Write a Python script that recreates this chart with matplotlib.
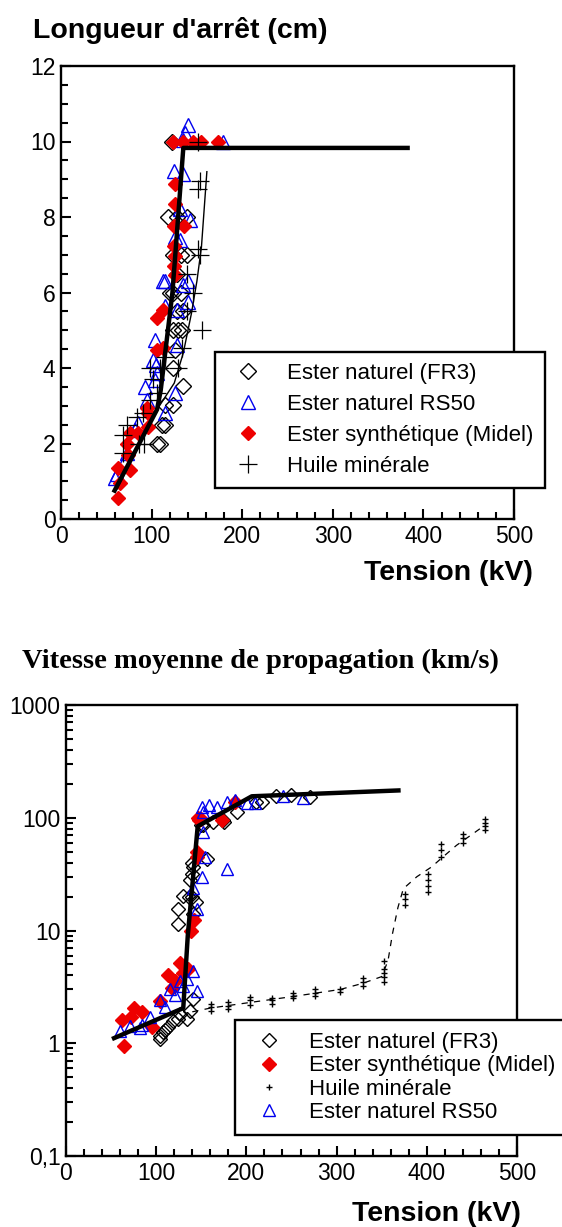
import matplotlib
matplotlib.use("Agg")
import matplotlib.pyplot as plt
from matplotlib.ticker import FixedLocator, MultipleLocator, FixedFormatter, NullFormatter
import numpy as np

plt.rcParams['font.family'] = ['Liberation Sans', 'DejaVu Sans']

# ---------- Longueur d'arret (cm) vs tension ----------
fr3_top_x = [122, 118.5, 127.7, 138.7, 124, 133, 138.7, 127.7, 120, 124, 133, 127.7, 135,
             124, 129.5, 133.2, 125.8, 124, 135, 114.8, 124, 111, 114.8, 105.6, 109.3]
fr3_top_y = [10, 8, 8, 8, 7, 7, 7, 6.5, 6, 6, 6, 5.5, 5.5,
             5, 5, 5, 4.48, 4, 3.51, 3.02, 3.02, 2.5, 2.5, 2, 2]

rs50_top_x = [140.5, 137, 135, 179, 124.7, 135, 131.3, 142.4, 125.8, 131.3, 114.8, 135, 113,
              140.5, 114.8, 127.7, 140.5, 103.8, 127.7, 101.9, 104.6, 106, 104, 92.7, 125.8,
              94.6, 114.8, 85.3, 81.7, 72.5, 70.6, 59.6, 61.4]
rs50_top_y = [10.45, 10.23, 10.05, 10.0, 9.21, 9.15, 8.2, 7.93, 7.47, 7.4, 6.3, 6.2, 6.3,
              6.3, 5.63, 5.54, 5.76, 4.75, 4.6, 4.2, 4.08, 3.86, 3.69, 3.5, 3.33,
              3.16, 2.8, 2.54, 2.36, 1.74, 1.56, 1.08, 1.2]

midel_top_x = [124, 135, 146, 155, 173.6, 125.8, 125.8, 124.7, 135.8, 124.7, 125.8, 124.7, 125.8,
               105.6, 113, 105.6, 113, 94.6, 96.4, 96.4, 85.3, 76.2, 72.5, 73.6, 63.3, 76.2,
               65.1, 63.3]
midel_top_y = [10, 10, 10, 10, 10, 8.88, 8.35, 7.77, 7.77, 7.22, 6.96, 6.7, 6.47,
               5.32, 5.54, 4.48, 4.53, 2.94, 2.8, 2.45, 2.27, 2.27, 2.0, 1.7, 1.34, 1.3,
               0.95, 0.55]

huile_top_x = [151.5, 153.4, 151.5, 151.5, 153, 138.7, 146, 138.7, 155.3, 133.2, 98.2, 109.3,
               129.5, 114.8, 101.9, 105.6, 98.2, 90.8, 83.6, 72.5, 68.8, 86.6, 92.1, 68.8]
huile_top_y = [10, 8.95, 8.75, 7.14, 7.0, 6.5, 6.0, 5.5, 5.0, 4.53, 4.0, 4.0,
               4.0, 4.3, 3.7, 3.33, 3.16, 2.8, 2.71, 2.5, 2.23, 2.0, 2.0, 1.75]

fit_top_x = [58, 106, 110, 113, 118, 123, 135, 385]
fit_top_y = [0.7, 2.9, 3.4, 4.0, 5.0, 6.0, 9.83, 9.83]

fit_huile_top_x = [62, 106, 125, 135, 144, 150, 155, 161]
fit_huile_top_y = [0.8, 2.9, 3.6, 4.4, 5.45, 6.3, 7.2, 9.2]

# ---------- Vitesse moyenne (km/s) vs tension ----------
fr3_bot_x = [124.7, 124.7, 130.2, 137.7, 139.5, 141.3, 156, 139.5, 136, 140, 141, 144, 152.4,
             163.5, 174.5, 189.4, 217, 233, 249, 270.5, 150, 175.6, 211, 104.4, 108, 113.6,
             119, 124.7, 134, 137.6, 141.3, 104.4, 110, 126.4]
fr3_bot_y = [15.6, 11.5, 20.4, 27.8, 31.8, 36.5, 43.4, 40, 20, 20, 14, 18, 86,
             91, 95, 113, 138, 157, 160, 154, 86, 91, 138, 1.09, 1.25, 1.38,
             1.58, 1.64, 1.64, 1.94, 2.47, 1.15, 1.3, 1.83]

midel_bot_x = [63.8, 62, 74.9, 84.1, 95.2, 104.4, 113.6, 126.6, 121, 135.5, 72, 145, 145, 142,
               139, 147, 150, 173, 187.5, 146, 118, 130]
midel_bot_y = [0.95, 1.6, 2.06, 1.88, 1.38, 2.39, 4.0, 5.2, 3.6, 4.6, 1.7, 50, 45, 12.5,
               10, 95, 98, 96, 138, 100, 3.1, 4.2]

rs50_bot_x = [150.6, 158, 167.2, 178.3, 187.5, 152.4, 200.4, 209.6, 152.4, 154, 150.6, 145,
              178.3, 141, 241, 263, 60.1, 71.2, 82.3, 93.4, 104.4, 115.5, 126.6, 134, 141.3,
              145, 110, 121, 130, 84]
rs50_bot_y = [125, 129, 125, 138, 145, 112, 134, 134, 75, 45, 30, 15.6,
              35.3, 24, 155, 150, 1.29, 1.43, 1.36, 1.7, 2.4, 3.0, 3.6, 3.7, 4.4,
              2.9, 2.1, 2.7, 3.2, 1.45]

huile_bot_x = [161, 161, 161, 180, 180, 180, 204, 204, 204, 228, 228, 228, 252, 252, 252,
               276, 276, 276, 304, 304, 329, 329, 329, 352, 352, 352, 352, 352, 376, 376, 376,
               401, 401, 401, 401, 416, 416, 416, 440, 440, 440, 465, 465, 465, 465]
huile_bot_y = [1.95, 2.08, 2.25, 2.0, 2.15, 2.3, 2.2, 2.4, 2.55, 2.25, 2.4, 2.5, 2.5, 2.65, 2.8,
               2.6, 2.8, 3.0, 2.85, 3.0, 3.2, 3.5, 3.8, 3.5, 3.9, 4.2, 4.6, 5.4, 17, 19, 21,
               22, 25, 28, 32, 45, 52, 58, 60, 66, 72, 78, 85, 90, 97]

fit_bot_x = [51, 130, 135, 146, 206, 371]
fit_bot_y = [1.09, 2.05, 9, 84, 155, 175]

fit_huile_bot_x = [140, 160, 204, 252, 304, 329, 350, 357, 362, 368, 374, 389, 405, 418, 433, 451, 459]
fit_huile_bot_y = [1.9, 2.05, 2.3, 2.6, 3.0, 3.4, 3.9, 5.4, 9.4, 16, 23.5, 30, 36.5, 45, 57, 72, 80]

W, H = 562, 1227
fig = plt.figure(figsize=(W / 100, H / 100), dpi=100)


def px_axes(left, top, right, bottom):
    return fig.add_axes([left / W, 1 - bottom / H, (right - left) / W, (bottom - top) / H])


def style(ax):
    for s in ax.spines.values():
        s.set_linewidth(1.7)
    ax.tick_params(which='both', direction='in', top=False, right=False,
                   labelsize=16.5, width=1.5, pad=4)
    ax.tick_params(which='major', length=7)
    ax.tick_params(which='minor', length=5)


RED = '#ee0000'
BLUE = '#0000ee'

# ---- top panel ----
ax1 = px_axes(61, 66, 514, 519)
style(ax1)
ax1.plot(fr3_top_x, fr3_top_y, 'D', ms=8, mfc='none', mec='black', mew=1.0, ls='none',
         label='Ester naturel (FR3)')
ax1.plot(rs50_top_x, rs50_top_y, '^', ms=9.5, mfc='none', mec=BLUE, mew=1.0, ls='none',
         label='Ester naturel RS50')
ax1.plot(midel_top_x, midel_top_y, 'D', ms=7.5, mfc=RED, mec=RED, ls='none',
         label='Ester synthétique (Midel)')
ax1.plot(huile_top_x, huile_top_y, '+', ms=13, mec='black', mew=0.9, ls='none',
         label='Huile minérale')
ax1.plot(fit_huile_top_x, fit_huile_top_y, '-', color='black', lw=1.0)
ax1.plot(fit_top_x, fit_top_y, '-', color='black', lw=3.2, solid_capstyle='butt')
ax1.set_xlim(0, 500)
ax1.set_ylim(0, 12)
ax1.xaxis.set_major_locator(MultipleLocator(100))
ax1.xaxis.set_minor_locator(MultipleLocator(20))
ax1.yaxis.set_major_locator(MultipleLocator(2))
ax1.yaxis.set_minor_locator(MultipleLocator(0.5))

leg1 = ax1.legend(loc='upper left', bbox_to_anchor=(215 / W, 1 - 352 / H),
                  bbox_transform=fig.transFigure, fontsize=16, frameon=True,
                  fancybox=False, framealpha=1, edgecolor='black', borderpad=0.5,
                  labelspacing=0.45, handletextpad=0.75, handlelength=2.0, borderaxespad=0)
leg1.get_frame().set_linewidth(1.7)

fig.text(33 / W, 1 - 38 / H, "Longueur d'arrêt (cm)", fontsize=20.5, fontweight='bold',
         ha='left', va='baseline')
fig.text(533 / W, 1 - 580 / H, "Tension (kV)", fontsize=20.5, fontweight='bold',
         ha='right', va='baseline')

# ---- bottom panel ----
ax2 = px_axes(66, 705, 517, 1156)
style(ax2)
ax2.set_yscale('log')
ax2.plot(fr3_bot_x, fr3_bot_y, 'D', ms=7.5, mfc='none', mec='black', mew=1.0, ls='none',
         label='Ester naturel (FR3)')
ax2.plot(midel_bot_x, midel_bot_y, 'D', ms=7.5, mfc=RED, mec=RED, ls='none',
         label='Ester synthétique (Midel)')
ax2.plot(huile_bot_x, huile_bot_y, '+', ms=5, mec='black', mew=1.0, ls='none',
         label='Huile minérale')
ax2.plot(rs50_bot_x, rs50_bot_y, '^', ms=8.5, mfc='none', mec=BLUE, mew=1.0, ls='none',
         label='Ester naturel RS50')
ax2.plot(fit_huile_bot_x, fit_huile_bot_y, '--', color='black', lw=0.9, dashes=(5, 5))
ax2.plot(fit_bot_x, fit_bot_y, '-', color='black', lw=3.2, solid_capstyle='butt')
ax2.set_xlim(0, 500)
ax2.set_ylim(0.1, 1000)
ax2.xaxis.set_major_locator(MultipleLocator(100))
ax2.xaxis.set_minor_locator(MultipleLocator(20))
ax2.yaxis.set_major_locator(FixedLocator([0.1, 1, 10, 100, 1000]))
ax2.yaxis.set_major_formatter(FixedFormatter(['0,1', '1', '10', '100', '1000']))
minor = [m * 10.0 ** e for e in range(-1, 3) for m in range(2, 10)]
ax2.yaxis.set_minor_locator(FixedLocator(minor))
ax2.yaxis.set_minor_formatter(NullFormatter())

leg2 = ax2.legend(loc='upper left', bbox_to_anchor=(235 / W, 1 - 1020 / H),
                  bbox_transform=fig.transFigure, fontsize=16, frameon=True,
                  fancybox=False, framealpha=1, edgecolor='black', borderpad=0.55,
                  labelspacing=0.1, handletextpad=0.8, handlelength=2.0, borderaxespad=0)
leg2.get_frame().set_linewidth(1.7)

fig.text(22 / W, 1 - 668 / H, "Vitesse moyenne de propagation (km/s)", fontsize=20.5,
         fontweight='bold', family=['Liberation Serif', 'DejaVu Serif'],
         ha='left', va='baseline')
fig.text(521 / W, 1 - 1221 / H, "Tension (kV)", fontsize=20.5, fontweight='bold',
         ha='right', va='baseline')

fig.savefig('out.png', dpi=100)
